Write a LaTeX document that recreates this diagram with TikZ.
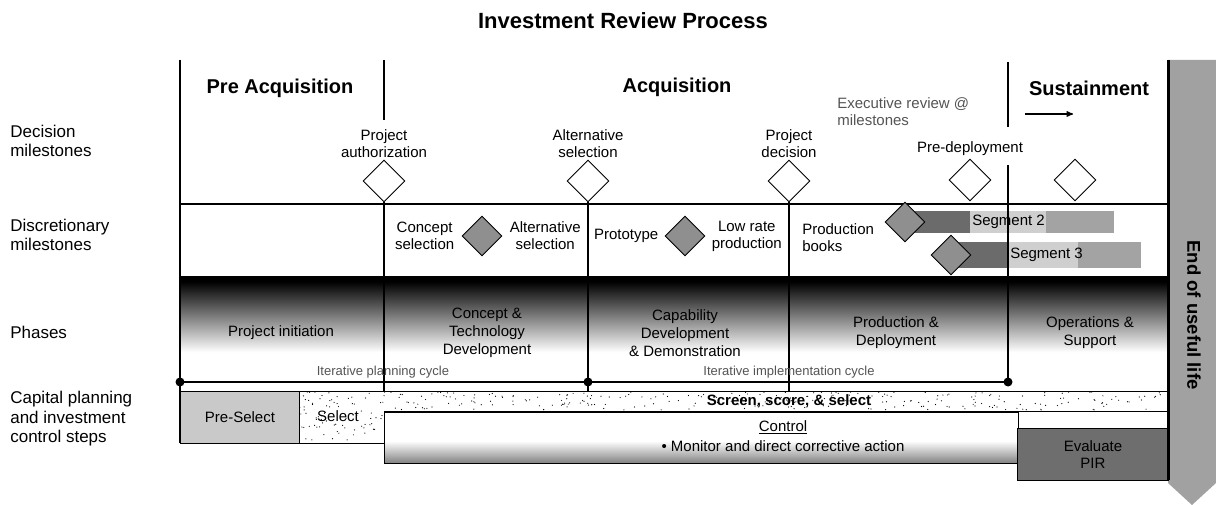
\documentclass[tikz,border=0pt]{standalone}
\usepackage{fontspec}
\setmainfont{Liberation Sans}
\usetikzlibrary{shapes.geometric,positioning,arrows}

\definecolor{segdark}{gray}{0.42}
\definecolor{seglight}{gray}{0.81}
\definecolor{segmid}{gray}{0.64}
\definecolor{dmgray}{gray}{0.56}
\definecolor{preselgray}{gray}{0.79}
\definecolor{evalgray}{gray}{0.43}
\definecolor{bandgray}{gray}{0.63}
\definecolor{notegray}{gray}{0.33}
\definecolor{ctrlgray}{gray}{0.5}

\newcommand{\txtfont}{\fontsize{15}{17}\selectfont}
\newcommand{\phfont}{\fontsize{15}{18}\selectfont}
\newcommand{\rowfont}{\fontsize{17}{19.5}\selectfont}
\newcommand{\headfont}{\fontsize{20}{24}\selectfont\bfseries}
\newcommand{\titlefont}{\fontsize{22}{26}\selectfont\bfseries}
\newcommand{\notefont}{\fontsize{13}{15}\selectfont}
\newcommand{\bandfont}{\fontsize{18.5}{22}\selectfont\bfseries}

\pgfdeclareverticalshading{phasefade}{100bp}{color(0bp)=(white); color(42bp)=(white); color(73bp)=(black); color(100bp)=(black)}
\pgfdeclareverticalshading{ctrlfade}{100bp}{color(0bp)=(ctrlgray); color(25bp)=(ctrlgray); color(47bp)=(white); color(100bp)=(white)}

\tikzset{
  decision/.style={diamond, draw, fill=white, line width=0.9pt, inner sep=0pt, minimum width=42pt, minimum height=42pt},
  discr/.style={decision, fill=dmgray, minimum width=40pt, minimum height=40pt},
  lbl/.style={align=center, font=\txtfont, inner sep=0pt},
  phase/.style={align=center, font=\phfont, inner sep=0pt},
  rowlbl/.style={align=left, font=\rowfont, anchor=west, inner sep=0pt},
  head/.style={font=\headfont, inner sep=0pt},
  note/.style={font=\notefont, text=notegray, inner sep=0pt},
  vline/.style={line width=2pt},
  stepbox/.style={draw, line width=0.9pt, anchor=north west, inner sep=0pt, align=center, font=\txtfont}
}

\begin{document}
\begin{tikzpicture}[x=1pt,y=-1pt,>=stealth',semithick]
\useasboundingbox (0,0) rectangle (1216,505);

\node[font=\titlefont] (title) at (623,21) {Investment Review Process};

% end of useful life band
\fill[bandgray] (1168,60) -- (1216,60) -- (1216,483) -- (1192,505) -- (1168,483) -- cycle;
\node[font=\bandfont, rotate=-90] (eol) at (1194,315) {End of useful life};

% phases background
\shade[shading=phasefade] (180,277) rectangle (1168,391);

% screen, score & select texture
\pgfmathsetseed{11}
\foreach \i in {1,...,300}{
  \pgfmathsetmacro{\dx}{299+869*rnd}
  \pgfmathsetmacro{\dy}{392+18*rnd}
  \fill (\dx,\dy) circle (0.6);
}
\foreach \i in {1,...,45}{
  \pgfmathsetmacro{\dx}{300+83*rnd}
  \pgfmathsetmacro{\dy}{411+31*rnd}
  \fill (\dx,\dy) circle (0.6);
}

% capital planning steps
\node[stepbox, fill=preselgray, minimum width=119pt, minimum height=52pt] (presel) at (180,391) {Pre-Select};
\node[lbl] (sel) at (338,416) {Select};
\draw[line width=0.9pt] (299,391) -- (299,443) -- (384,443);
\node[font=\txtfont\bfseries, inner sep=0pt] (ssel) at (789,401) {Screen, score, \& select};
\node[stepbox, shade, shading=ctrlfade, minimum width=634pt, minimum height=51pt] (ctrl) at (384,412) {};
\node[lbl] (ctrltxt) at (783,436) {\underline{Control}\\[3pt]\textbullet\ Monitor and direct corrective action};
\node[stepbox, fill=evalgray, minimum width=151pt, minimum height=52pt] (evalpir) at (1017,428) {Evaluate\\PIR};

\draw[line width=0.9pt] (180,391) -- (1168,391);
\draw[line width=0.9pt] (384,411) -- (1168,411);
\draw[line width=1.2pt] (180,204) -- (1168,204);

% segments
\fill[segdark] (905,211) rectangle (970,233);
\fill[seglight] (970,211) rectangle (1046,233);
\fill[segmid] (1046,211) rectangle (1114,233);
\fill[segdark] (951,242) rectangle (1008,268);
\fill[seglight] (1008,242) rectangle (1078,268);
\fill[segmid] (1078,242) rectangle (1141,268);

% decision milestones
\node[decision] (pauth) at (384,181) {};
\node[decision] (altsel) at (588,181) {};
\node[decision] (pdec) at (789,181) {};
\node[decision] (predep) at (970,180) {};
\node[decision] (sustm) at (1075,180) {};

\draw[line width=2.6pt] (180,60) -- (180,443);
\draw[line width=3pt] (1168,60) -- (1168,480);
\draw[vline] (384,60) -- (384,120);
\draw[vline] (pauth.south) -- (384,391);
\draw[vline] (altsel.south) -- (588,391);
\draw[vline] (pdec.south) -- (789,391);
\draw[vline] (1008,62) -- (1008,127);
\draw[vline] (1008,165) -- (1008,382);

\node[lbl, above=2pt of pauth] (pauthl) {Project\\authorization};
\node[lbl, above=2pt of altsel] (altsell) {Alternative\\selection};
\node[lbl, above=2pt of pdec] (pdecl) {Project\\decision};
\node[lbl, above=3pt of predep] (predepl) {Pre-deployment};
\node[lbl, align=left, text=notegray, anchor=west] (execl) at (837,112) {Executive review @\\milestones};
\coordinate (arrs) at (1025,114);
\coordinate (arre) at (1073,114);
\draw[->, line width=1.3pt] (arrs) -- (arre);

\node[head] (preacq) at (280,88) {Pre Acquisition};
\node[head] (acq) at (677,87) {Acquisition};
\node[head] (sust) at (1089,88) {Sustainment};

% discretionary milestones
\node[discr] (csel) at (482,236) {};
\node[lbl, left=7pt of csel] (csell) {Concept\\selection};
\node[lbl, right=7pt of csel] (asell) {Alternative\\selection};
\node[discr] (lrate) at (685,236) {};
\node[lbl, left=6pt of lrate] (protol) {Prototype};
\node[lbl, right=6pt of lrate] (lratel) {Low rate\\production};
\node[lbl, align=left, anchor=west] (prodb) at (802,238) {Production\\books};
\node[discr] (seg2d) at (905,222) {};
\node[discr] (seg3d) at (951,255) {};
\node[lbl, anchor=west] (seg2) at (972,222) {Segment 2};
\node[lbl, anchor=west] (seg3) at (1010,255) {Segment 3};

% phases
\node[phase] (pinit) at (281,333) {Project initiation};
\node[phase] (ctd) at (487,333) {Concept \&\\Technology\\Development};
\node[phase] (cdd) at (685,333) {Capability\\Development\\\& Demonstration};
\node[phase] (prd) at (896,333) {Production \&\\Deployment};
\node[phase] (ops) at (1090,333) {Operations \&\\Support};

% cycles
\coordinate (c0) at (180,382);
\coordinate (c1) at (588,382);
\coordinate (c2) at (1008,382);
\draw[line width=1.6pt] (c0) -- (c2);
\foreach \c in {c0,c1,c2} \fill (\c) circle (4.5);
\node[note] (plan) at (383,372) {Iterative planning cycle};
\node[note] (impl) at (789,372) {Iterative implementation cycle};

% row labels
\node[rowlbl] (rdec) at (10,141) {Decision\\milestones};
\node[rowlbl] (rdis) at (10,235) {Discretionary\\milestones};
\node[rowlbl] (rpha) at (10,332) {Phases};
\node[rowlbl] (rcap) at (10,419) {Capital planning\\and investment\\control steps};
\end{tikzpicture}
\end{document}
